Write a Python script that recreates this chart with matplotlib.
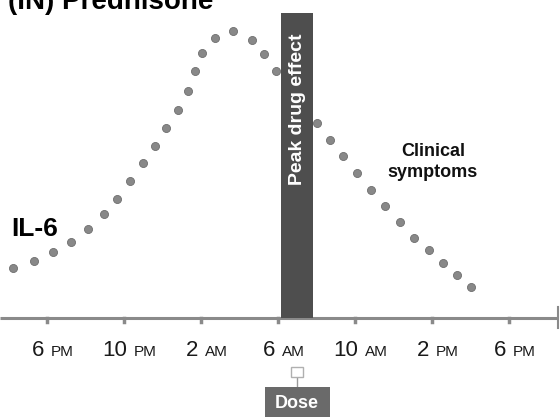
import matplotlib
matplotlib.use("Agg")
import matplotlib.pyplot as plt
from matplotlib.offsetbox import TextArea, HPacker, AnnotationBbox
from matplotlib.patches import Rectangle

# ---- data ----
# time in hours (18 = 6 PM day 1, 30 = 6 AM, 42 = 6 PM day 2)
il6_hours = [16.23, 17.32, 18.31, 19.25, 20.13, 20.96, 21.64, 22.31, 22.99, 23.61,
             24.18, 24.81, 25.32, 25.69, 26.05, 26.73, 27.66, 28.65, 29.27, 29.90,
             30.57, 31.30, 32.03, 32.70, 33.38, 34.10, 34.83, 35.56, 36.34, 37.06,
             37.84, 38.57, 39.30, 40.03]
il6_level = [50, 57, 66, 76, 89, 104, 119, 137, 155, 172,
             190, 208, 227, 247, 265, 280, 287, 278, 264, 247,
             230, 212, 195, 178, 162, 145, 128, 112, 96, 80,
             68, 55, 43, 31]
tick_hours = [18, 22, 26, 30, 34, 38, 42]
tick_nums = ["6", "10", "2", "6", "10", "2", "6"]
tick_suffix = ["PM", "PM", "AM", "AM", "AM", "PM", "PM"]
peak_start, peak_end = 30.16, 31.82
peak_height = 305
dose_hour = 31.0
axis_end_hour = 44.55

W, H = 560, 417
fig = plt.figure(figsize=(W / 100, H / 100), dpi=100)
ax = fig.add_axes([0, 0, 1, 1])
ax.set_xlim(15.558, 44.65)
ax.set_ylim(-99, 318)
ax.axis("off")

def fx(px):
    return px / W

def fy(py):
    return 1 - py / H

# axis line
ax.plot([15.558, axis_end_hour], [0, 0], color="#8a8a8a", lw=2.2, solid_capstyle="butt", zorder=2)
ax.plot([axis_end_hour, axis_end_hour], [-10, 11], color="#8a8a8a", lw=1.5, zorder=2)
for h in tick_hours:
    ax.plot([h, h], [0, -4], color="#8a8a8a", lw=2.5, zorder=2)

# IL-6 dots
ax.plot(il6_hours, il6_level, "o", ms=5.8, color="#888888", mec="#6e6e6e", mew=0.6, zorder=3)

# peak drug effect bar
ax.bar(peak_start, peak_height, width=peak_end - peak_start, align="edge", bottom=0,
       color="#4e4e4e", zorder=4)
ax.text((peak_start + peak_end) / 2, 209, "Peak drug effect", rotation=90, color="white",
        ha="center", va="center", fontsize=14, fontweight="bold",
        family="Liberation Sans", zorder=5)

# tick labels
for h, n, s in zip(tick_hours, tick_nums, tick_suffix):
    t1 = TextArea(n, textprops=dict(fontsize=16, color="#1a1a1a", family="Liberation Sans"))
    t2 = TextArea(s, textprops=dict(fontsize=11, color="#1a1a1a", family="Liberation Sans"))
    box = HPacker(children=[t1, t2], align="baseline", pad=0, sep=5)
    ab = AnnotationBbox(box, (h, -32), xybox=(4, 0), xycoords="data", boxcoords="offset points",
                        frameon=False, box_alignment=(0.5, 0.5), pad=0)
    ax.add_artist(ab)

# dose marker
ax.add_patch(Rectangle((dose_hour - 0.3, -59), 0.6, 10, facecolor="white",
                       edgecolor="#b0b0b0", lw=1.0, zorder=5))
ax.plot([dose_hour, dose_hour], [-59, -69], color="#9a9a9a", lw=1.0, zorder=4)
ax.add_patch(Rectangle((dose_hour - 1.69, -110), 3.38, 41, facecolor="#6a6a6a",
                       edgecolor="none", zorder=4))
ax.text(dose_hour, -86, "Dose", color="white", ha="center", va="center", fontsize=13,
        fontweight="bold", family="Liberation Sans", zorder=5)

# labels
fig.text(fx(8), fy(9), "(IN) Prednisone", fontsize=20, fontweight="bold",
         family="Liberation Sans", ha="left", va="baseline", color="black")
fig.text(fx(11), fy(236), "IL-6", fontsize=19, fontweight="bold",
         family="Liberation Sans", ha="left", va="baseline", color="black")
fig.text(fx(433), fy(162), "Clinical\nsymptoms", fontsize=13, fontweight="bold",
         family="Liberation Sans", ha="center", va="center", color="#111111",
         linespacing=1.25)

fig.savefig("out.png", dpi=100)
